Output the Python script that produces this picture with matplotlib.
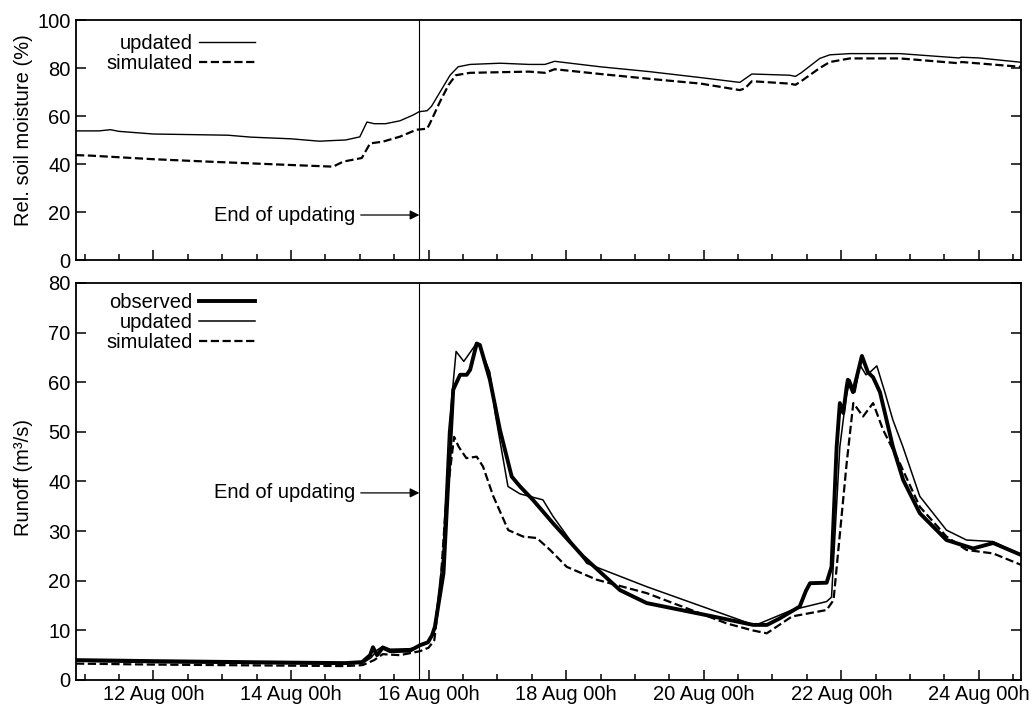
import numpy as np
import matplotlib
matplotlib.use("Agg")
import matplotlib.pyplot as plt
import matplotlib.dates as mdates

plt.rcParams['font.family'] = ['Liberation Sans', 'DejaVu Sans']
plt.rcParams['font.size'] = 14.5

# time axis: hours since 11 Aug 00h
T0 = np.datetime64('2002-08-11T00:00')
X_START, X_END = -3, 326.7
END_UPDATE = 116.8

# Rel. soil moisture (%)
sm_upd_h = [-3, 5, 9, 12, 24, 40, 50, 58, 72, 82, 87, 91, 96, 98.5, 101, 105, 110, 114.6,
            116.7, 119.5, 121, 124, 127.5, 130.3, 134.5, 145, 155, 160.6, 164, 166, 180,
            197, 215, 228.6, 230.4, 232.8, 246, 248, 250, 256.5, 260, 267, 277.5, 284.5,
            305, 306, 312, 326.7]
sm_upd = [53.8, 53.8, 54.3, 53.6, 52.5, 52.2, 52.0, 51.2, 50.5, 49.5, 49.8, 50.0, 51.3, 57.5,
          56.8, 56.8, 58.0, 60.4, 61.8, 62.2, 64, 70, 77, 80.5, 81.5, 82.0, 81.5, 81.5, 82.8,
          82.5, 80.5, 78.5, 76, 74, 75.5, 77.5, 77, 76.5, 78, 84, 85.5, 86, 86, 86, 84.2,
          84.5, 84.2, 82.4]
sm_sim_h = [-3, 2, 24, 43, 71.7, 86.7, 90.2, 96.7, 99.6, 104, 110, 115.8, 119.5, 120.5, 124,
            127, 129.5, 134.5, 155, 160.6, 164, 180, 197, 215, 228.6, 230.4, 232.8, 246, 248,
            250, 256.5, 260, 267, 284.5, 305, 306, 326.7]
sm_sim = [43.7, 43.5, 42, 41, 39.6, 38.9, 41, 42.5, 48.6, 49.3, 51.4, 54.3, 54.7, 57, 66, 73,
          77, 78, 78.5, 78, 79.5, 77.5, 75.5, 73.5, 70.8, 71.5, 74.5, 73.5, 73, 74.5, 80,
          82.5, 84, 84, 82, 82.5, 80.5]

# Runoff (m3/s)
q_obs_h = [-3, 24, 71.7, 90.9, 96.8, 99.6, 100.6, 102, 104, 106.6, 113.5, 117, 119.8, 121.2,
           122.2, 125.2, 126.9, 128.6, 131, 133.3, 134.5, 136.8, 137.9, 141.4, 144.9, 149,
           151.9, 156.4, 163.4, 173.9, 186.8, 196.1, 219.2, 233.2, 238.1, 242.5, 249.5, 251.7,
           253.1, 258.9, 260.6, 262.4, 263.5, 264.7, 265.9, 266.3, 268.1, 271.2, 273.3,
           275.1, 277.5, 282, 285.6, 291.4, 300.7, 310, 317, 326.7]
q_obs = [4.0, 3.8, 3.5, 3.4, 3.6, 5.0, 6.6, 5.0, 6.5, 5.8, 5.9, 7.0, 7.6, 9, 10.7, 21.5, 40.3,
         58.5, 61.5, 61.5, 62.5, 67.8, 67.5, 60.5, 50.4, 41, 39, 36.3, 31.6, 24.9, 18.1, 15.5,
         12.8, 11.1, 11.1, 12.4, 14.8, 18, 19.5, 19.6, 22.8, 47, 55.8, 53.8, 59.1, 60.5, 58,
         65.3, 62, 61, 58, 47, 40.3, 33.6, 28.2, 26.5, 27.6, 25.2]
q_upd_h = [-3, 24, 91, 97, 100, 102, 104, 106.6, 113.5, 117, 120, 122, 125, 127, 129.6,
           132.3, 136.8, 138, 141.4, 143.2, 147.7, 151.9, 159.9, 163.4, 175.2, 196.1, 225.2,
           233.9, 246.8, 258.9, 260.6, 263.5, 265.7, 267, 268.8, 270.5, 272.6, 274, 276.4,
           279.2, 282, 285.5, 291.4, 300.7, 307.7, 316.9, 326.7]
q_upd = [3.8, 3.5, 3.2, 3.4, 4.5, 6.0, 6.8, 6.2, 6.3, 6.8, 7.5, 10, 25, 50, 66.2, 64.2, 67.9,
         67, 62, 53.8, 39, 37.5, 36.3, 33, 23.5, 18.8, 12.8, 11, 14.1, 15.8, 16.7, 47, 57,
         60.5, 58, 63.5, 61.5, 62, 63.3, 58, 52.4, 47, 37, 30.2, 28.2, 27.9, 25.2]
q_sim_h = [-3, 24, 91, 97, 101, 104, 110, 117, 120, 122, 124, 126, 128.9, 130.5, 133.2, 136.8,
           139, 142.6, 147.8, 153, 157.8, 162.4, 168.2, 178.7, 196.1, 224, 233, 238, 246.8,
           258.9, 261.3, 265.9, 268.2, 271.6, 275.1, 278.6, 284.4, 291.4, 300.7, 307.7, 317,
           326.7]
q_sim = [3.3, 3.1, 2.8, 3.0, 4.0, 5.2, 5.0, 5.8, 6.5, 8, 18, 35, 49, 47, 44.7, 45, 43, 37,
         30.2, 28.9, 28.6, 26.2, 22.8, 20.2, 17.5, 11.4, 10, 9.4, 12.8, 14.1, 16.1, 43.7,
         55.8, 53.1, 55.8, 50.4, 43.7, 34.9, 28.9, 26.2, 25.5, 23.2]


def to_time(hours):
    return T0 + (np.array(hours) * 60).astype('timedelta64[m]')


fig = plt.figure(figsize=(10.36, 7.05), dpi=100)
ax1 = fig.add_axes([0.0734, 0.6312, 0.9121, 0.3404])
ax2 = fig.add_axes([0.0734, 0.0355, 0.9121, 0.5631])

ax1.plot(to_time(sm_upd_h), sm_upd, color='black', lw=1.0, label='updated')
ax1.plot(to_time(sm_sim_h), sm_sim, color='black', lw=1.6, ls='--', label='simulated')

ax2.plot(to_time(q_obs_h), q_obs, color='black', lw=2.8, label='observed')
ax2.plot(to_time(q_upd_h), q_upd, color='black', lw=1.1, label='updated')
ax2.plot(to_time(q_sim_h), q_sim, color='black', lw=1.6, ls='--', label='simulated')

t_end = to_time([END_UPDATE])[0]
panels = [(ax1, 100, 20, 18.75, 'Rel. soil moisture (%)', 0.942, 0.54),
          (ax2, 80, 10, 37.7, 'Runoff (m³/s)', 0.975, 0.511)]
for ax, ymax, step, ytxt, ylab, ltop, ylab_y in panels:
    ax.set_xlim(to_time([X_START])[0], to_time([X_END])[0])
    ax.set_ylim(0, ymax)
    ax.set_yticks(np.arange(0, ymax + 1, step))
    ax.axvline(t_end, color='black', lw=0.8)
    ax.annotate('End of updating', xy=(t_end, ytxt), xytext=(to_time([94.4])[0], ytxt),
                ha='right', va='center',
                arrowprops=dict(arrowstyle='-|>', color='black', lw=0.9,
                                shrinkA=2, shrinkB=0, mutation_scale=14))
    ax.xaxis.set_major_locator(mdates.DayLocator(bymonthday=range(12, 32, 2)))
    ax.xaxis.set_minor_locator(mdates.HourLocator(byhour=[0, 12]))
    ax.xaxis.set_major_formatter(mdates.DateFormatter('%d %b %Hh'))
    ax.tick_params(axis='both', which='major', direction='in', length=7, width=1.1)
    ax.tick_params(axis='x', which='minor', direction='in', length=4, width=1.1)
    ax.tick_params(axis='y', right=True, labelright=False, pad=4)
    for sp in ax.spines.values():
        sp.set_linewidth(1.3)
    ax.set_ylabel(ylab)
    ax.yaxis.set_label_coords(-0.046, ylab_y)
    ax.legend(loc='upper left', bbox_to_anchor=(0.032, ltop), frameon=False, markerfirst=False,
              handlelength=2.8, handletextpad=0.3, labelspacing=0.06, borderpad=0,
              borderaxespad=0)

ax1.tick_params(axis='x', labelbottom=False)

fig.savefig('out.png', dpi=100)
